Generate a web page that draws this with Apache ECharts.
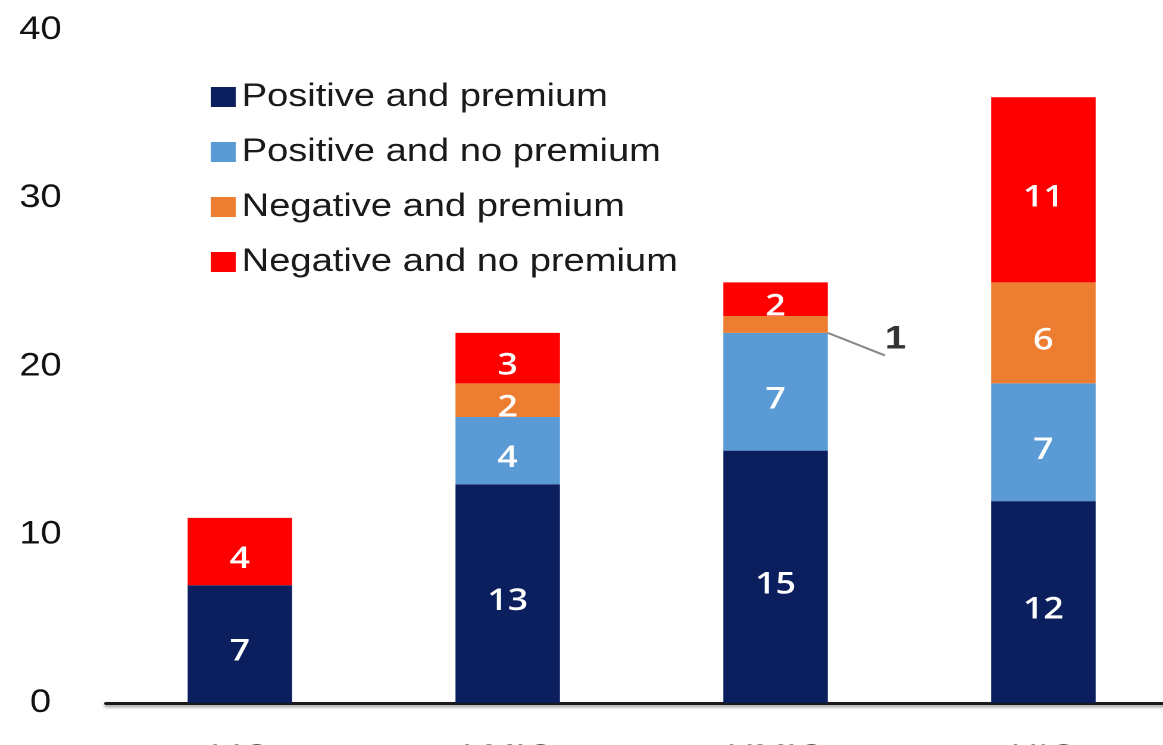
<!DOCTYPE html>
<html>
<head>
<meta charset="utf-8">
<script src="https://cdn.jsdelivr.net/npm/echarts@6/dist/echarts.min.js"></script>
<style>
  html, body { margin: 0; padding: 0; background: #fff; overflow: hidden; }
  /* the chart is laid out on a narrower canvas and widened to fill the page */
  #chart {
    width: 977px;
    height: 745px;
    transform: scaleX(1.1904);
    transform-origin: 0 0;
  }
</style>
</head>
<body>
<div id="chart"></div>
<script>
// Income groups along the x axis
const categories = ['LIC', 'LMIC', 'UMIC', 'HIC'];

// Number of cases per group, stacked bottom to top
const positivePremium = [7, 13, 15, 12];
const positiveNoPremium = [0, 4, 7, 7];
const negativePremium = [0, 2, 1, 6];
const negativeNoPremium = [4, 3, 2, 11];

const seriesNames = [
  'Positive and premium',
  'Positive and no premium',
  'Negative and premium',
  'Negative and no premium'
];

const yTicks = [0, 10, 20, 30, 40];

const colors = ['#0b1f5e', '#5b9bd5', '#ed7d31', '#ff0000'];
const font = '"Liberation Sans", Arial, sans-serif';

const chart = echarts.init(document.getElementById('chart'), null, { devicePixelRatio: 2 });

function makeSeries(name, values, color) {
  return {
    name: name,
    type: 'bar',
    stack: 'total',
    barWidth: '39%',
    itemStyle: { color: color },
    label: {
      show: true,
      position: 'inside',
      offset: [0, 8],
      color: '#ffffff',
      fontFamily: 'Open Sans, sans-serif',
      fontWeight: 600,
      fontSize: 30,
      formatter: p => (p.value > 0 ? p.value : '')
    },
    data: values.map(v => {
      if (v === 1) {
        // a one-case slice is too thin for an inside label: call it out on the right
        return {
          value: v,
          label: {
            position: 'right',
            distance: 48,
            offset: [0, 15],
            color: '#333',
            fontFamily: font,
            fontWeight: 'bold',
            fontSize: 32
          },
          labelLine: { show: true, lineStyle: { color: '#888', width: 2 } }
        };
      }
      return v;
    })
  };
}

chart.setOption({
  animation: false,
  backgroundColor: '#ffffff',
  grid: { left: 89, right: -12, top: 30, bottom: 42, outerBoundsMode: 'none', containLabel: false },
  legend: {
    orient: 'vertical',
    left: 172,
    top: 76,
    itemWidth: 21,
    itemHeight: 20,
    itemGap: 23,
    icon: 'rect',
    textStyle: {
      fontFamily: font,
      fontSize: 32,
      color: '#1a1a1a'
    },
    data: seriesNames
  },
  xAxis: {
    type: 'category',
    data: categories,
    axisTick: { show: false },
    axisLine: {
      lineStyle: {
        color: '#1a1a1a',
        width: 3,
        shadowColor: 'rgba(0,0,0,0.45)',
        shadowBlur: 3,
        shadowOffsetY: 2
      }
    },
    axisLabel: {
      color: '#222',
      fontFamily: font,
      fontSize: 32,
      margin: 39
    }
  },
  yAxis: {
    type: 'value',
    min: yTicks[0],
    max: yTicks[yTicks.length - 1],
    interval: 10,
    splitLine: { show: false },
    axisLine: { show: false },
    axisTick: { show: false },
    axisLabel: {
      color: '#111',
      fontFamily: font,
      fontSize: 32,
      align: 'center',
      margin: 55
    }
  },
  series: [
    makeSeries(seriesNames[0], positivePremium, colors[0]),
    makeSeries(seriesNames[1], positiveNoPremium, colors[1]),
    makeSeries(seriesNames[2], negativePremium, colors[2]),
    makeSeries(seriesNames[3], negativeNoPremium, colors[3])
  ]
});
</script>
</body>
</html>
